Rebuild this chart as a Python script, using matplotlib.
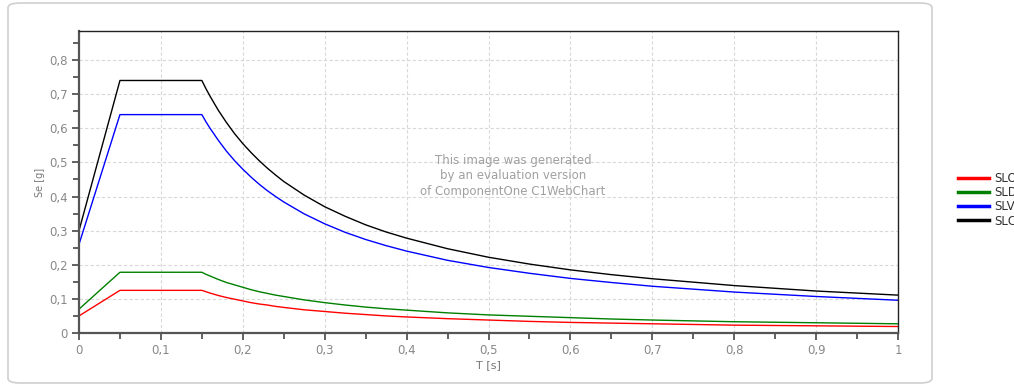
import numpy as np
import matplotlib
matplotlib.use('Agg')
import matplotlib.pyplot as plt
from matplotlib.patches import FancyBboxPatch
from matplotlib.ticker import MultipleLocator, FuncFormatter

# periodo T [s]
T = [0, 0.05, 0.15, 0.155, 0.16, 0.17, 0.18, 0.19, 0.2, 0.21, 0.22, 0.23,
     0.24, 0.25, 0.275, 0.3, 0.325, 0.35, 0.375, 0.4, 0.45, 0.5, 0.55, 0.6,
     0.65, 0.7, 0.8, 0.9, 1.0]

# Se [g] per stato limite
slo = [0.05, 0.125, 0.125, 0.121, 0.117, 0.110, 0.104, 0.099, 0.094, 0.089,
       0.085, 0.082, 0.078, 0.075, 0.068, 0.063, 0.058, 0.054, 0.050, 0.047,
       0.042, 0.038, 0.034, 0.031, 0.029, 0.027, 0.023, 0.021, 0.019]
sld = [0.07, 0.178, 0.178, 0.172, 0.167, 0.157, 0.148, 0.141, 0.134, 0.127,
       0.121, 0.116, 0.111, 0.107, 0.097, 0.089, 0.082, 0.076, 0.071, 0.067,
       0.059, 0.053, 0.049, 0.045, 0.041, 0.038, 0.033, 0.030, 0.027]
slv = [0.26, 0.64, 0.64, 0.619, 0.60, 0.565, 0.533, 0.505, 0.48, 0.457,
       0.436, 0.417, 0.40, 0.384, 0.349, 0.32, 0.295, 0.274, 0.256, 0.24,
       0.213, 0.192, 0.175, 0.16, 0.148, 0.137, 0.12, 0.107, 0.096]
slc = [0.30, 0.74, 0.74, 0.716, 0.694, 0.653, 0.617, 0.584, 0.555, 0.529,
       0.505, 0.483, 0.463, 0.444, 0.404, 0.37, 0.342, 0.317, 0.296, 0.278,
       0.247, 0.222, 0.202, 0.185, 0.171, 0.159, 0.139, 0.123, 0.111]

nomi = ['SLO', 'SLD', 'SLV', 'SLC']
colori = ['#ff0000', '#008000', '#0000ff', '#000000']

fig = plt.figure(figsize=(10.14, 3.9), dpi=100)

# cornice arrotondata
card = FancyBboxPatch((8 / 1014, 7 / 390), 924 / 1014, 380 / 390,
                      boxstyle='round,pad=0,rounding_size=0.012',
                      transform=fig.transFigure, facecolor='none',
                      edgecolor='#cfcfcf', linewidth=1.2, zorder=-1)
fig.patches.append(card)

ax = fig.add_axes([79 / 1014, 57 / 390, 819 / 1014, 302 / 390])
ax.patch.set_alpha(0)
linee = []
for serie, nome, col in zip([slo, sld, slv, slc], nomi, colori):
    l, = ax.plot(T, serie, color=col, linewidth=1.0, label=nome)
    linee.append(l)

ax.set_xlim(0, 1)
ax.set_ylim(0, 0.885)
ax.xaxis.set_major_locator(MultipleLocator(0.1))
ax.xaxis.set_minor_locator(MultipleLocator(0.05))
ax.yaxis.set_major_locator(MultipleLocator(0.1))
ax.yaxis.set_minor_locator(MultipleLocator(0.05))

virgola = FuncFormatter(lambda v, p: ('%g' % round(v, 2)).replace('.', ','))
ax.xaxis.set_major_formatter(virgola)
ax.yaxis.set_major_formatter(virgola)

ax.grid(True, which='major', color='#d8d8d8', linestyle=(0, (3, 2)), linewidth=0.8)
ax.set_axisbelow(True)

for s in ['left', 'bottom']:
    ax.spines[s].set_color('#555555')
    ax.spines[s].set_linewidth(1.6)
for s in ['top', 'right']:
    ax.spines[s].set_color('#222222')
    ax.spines[s].set_linewidth(1.0)

ax.tick_params(which='both', direction='out', color='#555555', width=1.3,
               labelcolor='#888888', labelsize=8.5, top=False, right=False)
ax.tick_params(which='major', length=5, pad=3)
ax.tick_params(which='minor', length=4)

ax.set_xlabel('T [s]', fontsize=8, color='#777777', labelpad=2)
ax.set_ylabel('Se [g]', fontsize=7, color='#777777', labelpad=3)

ax.text(0.53, 0.52, 'This image was generated\nby an evaluation version\nof ComponentOne C1WebChart',
        transform=ax.transAxes, ha='center', va='center', fontsize=8.5,
        color='#a0a0a0', linespacing=1.25)

fig.legend(handles=linee, loc='upper left', bbox_to_anchor=(958 / 1014, 1 - 172 / 390),
           frameon=False, fontsize=8.5, handlelength=2.6, handletextpad=0.5,
           labelspacing=0.1, borderaxespad=0, borderpad=0)
for l in fig.legends[0].get_lines():
    l.set_linewidth(2.5)
for t in fig.legends[0].get_texts():
    t.set_color('#333333')

fig.savefig('out.png', dpi=100)
